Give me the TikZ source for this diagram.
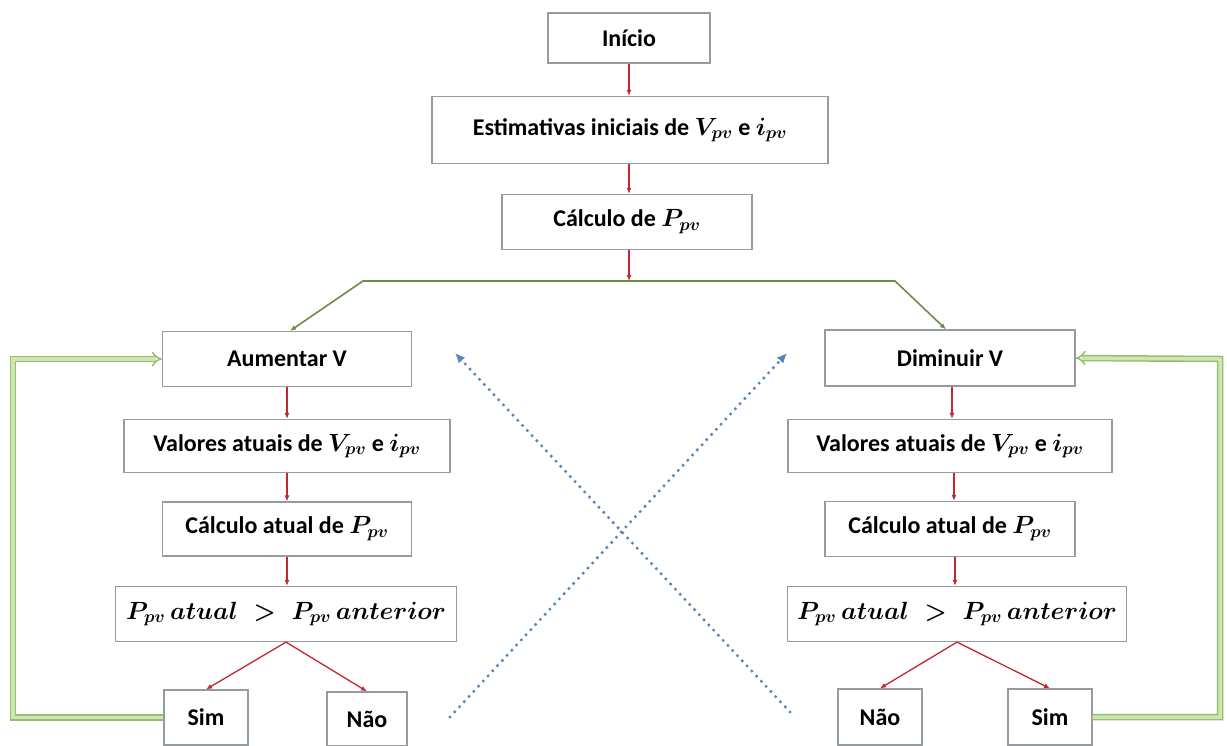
\documentclass[tikz,border=0pt]{standalone}
\usepackage{fontspec}
\setmainfont{Carlito}
\usetikzlibrary{arrows.meta}

\definecolor{boxline}{RGB}{150,155,160}
\definecolor{flowred}{RGB}{192,40,50}
\definecolor{branchgreen}{RGB}{110,140,70}
\definecolor{loopgreen}{RGB}{150,190,110}
\definecolor{loopfill}{RGB}{205,230,180}
\definecolor{crossblue}{RGB}{85,135,185}

\tikzset{
  stepbox/.style={draw=boxline, line width=1.2pt, fill=white, inner sep=0pt,
    font=\fontsize{24}{28}\selectfont\bfseries\boldmath, align=center},
  mathbox/.style={stepbox, font=\fontsize{25}{28}\selectfont\bfseries\boldmath},
  redflow/.style={draw=flowred, line width=1.3pt, -{Latex[length=6pt,width=5pt]}},
  greenflow/.style={draw=branchgreen, line width=1.6pt, -{Latex[length=6pt,width=5pt]}},
  loopback/.style={draw=loopgreen, double=loopfill, double distance=3.5pt,
    line width=1.5pt, -{Implies}},
  crossflow/.style={draw=crossblue, line width=3.4pt, line cap=round,
    dash pattern=on 0pt off 7pt, -{Latex[length=10pt,width=9pt]}},
}

\begin{document}
\begin{tikzpicture}[x=1pt,y=-1pt]
\useasboundingbox (0,0) rectangle (1227,746);

% main column
\node[stepbox, minimum width=162pt, minimum height=50pt] (inicio) at (629,38) {Início};
\node[stepbox, minimum width=396pt, minimum height=67pt] (estim) at (630,130)
  {Estimativas iniciais de $V_{pv}$ e $i_{pv}$};
\node[stepbox, minimum width=250pt, minimum height=55pt] (calc) at (627,222)
  {Cálculo de $P_{pv}$};

% left branch: increase voltage
\node[stepbox, minimum width=249pt, minimum height=55pt] (aum) at (287,359) {Aumentar V};
\node[stepbox, minimum width=326pt, minimum height=53pt] (valL) at (287,446)
  {Valores atuais de $V_{pv}$ e $i_{pv}$};
\node[stepbox, minimum width=249pt, minimum height=54pt] (calcL) at (287,529)
  {Cálculo atual de $P_{pv}$};
\node[mathbox, minimum width=341pt, minimum height=55pt] (cmpL) at (286,614)
  {$P_{pv}\,atual\;>\;P_{pv}\,anterior$};
\node[stepbox, minimum width=84pt, minimum height=55pt] (simL) at (206,717.5) {Sim};
\node[stepbox, minimum width=80pt, minimum height=54pt] (naoL) at (367,719) {Não};

% right branch: decrease voltage
\node[stepbox, minimum width=250pt, minimum height=56pt] (dim) at (950,358) {Diminuir V};
\node[stepbox, minimum width=324pt, minimum height=53pt] (valR) at (950,446)
  {Valores atuais de $V_{pv}$ e $i_{pv}$};
\node[stepbox, minimum width=250pt, minimum height=55pt] (calcR) at (950,529)
  {Cálculo atual de $P_{pv}$};
\node[mathbox, minimum width=339pt, minimum height=55pt] (cmpR) at (957,614)
  {$P_{pv}\,atual\;>\;P_{pv}\,anterior$};
\node[stepbox, minimum width=84pt, minimum height=56pt] (naoR) at (880,717) {Não};
\node[stepbox, minimum width=84pt, minimum height=56pt] (simR) at (1050,717) {Sim};

% split point and bends of the green branch line
\coordinate (split) at (629,281);
\coordinate (bendL) at (363,281);
\coordinate (bendR) at (895,281);

% red flow arrows (vertical ones drop straight down)
\draw[redflow] (inicio.south) -- (inicio.south |- estim.north);
\draw[redflow] (estim.south -| inicio.south) -- (inicio.south |- calc.north);
\draw[redflow] (calc.south -| split) -- (split);
\draw[redflow] (aum.south) -- (aum.south |- valL.north);
\draw[redflow] (valL.south -| aum.south) -- (aum.south |- calcL.north);
\draw[redflow] (calcL.south) -- (calcL.south |- cmpL.north);
\draw[redflow] (cmpL.south) -- (simL.north);
\draw[redflow] (cmpL.south) -- (naoL.north);
\draw[redflow] ([xshift=2pt]dim.south) -- ([xshift=2pt]dim.south |- valR.north);
\draw[redflow] ([xshift=4pt]valR.south) -- ([xshift=4pt]valR.south |- calcR.north);
\draw[redflow] ([xshift=5pt]calcR.south) -- ([xshift=5pt]calcR.south |- cmpR.north);
\draw[redflow] (cmpR.south) -- (naoR.north);
\draw[redflow] (cmpR.south) -- (simR.north);

% green branch to both sides
\draw[greenflow] (split) -- (bendL) -- ([xshift=3pt]aum.north);
\draw[greenflow] (split) -- (bendR) -- ([xshift=-4pt]dim.north);

% loop-back paths
\coordinate (loopL) at (13,717.5);
\coordinate (loopLtop) at (13,359);
\coordinate (loopR) at (1220,717);
\coordinate (loopRtop) at (1220,359);
\draw[loopback] (simL.west) -- (loopL) -- (loopLtop) -- (aum.west);
\draw[loopback] (simR.east) -- (loopR) -- (loopRtop) -- (dim.east);

% crossing dotted arrows
\coordinate (xa1) at (450,717);
\coordinate (xa2) at (787,353);
\coordinate (xb1) at (790,712);
\coordinate (xb2) at (455,353);
\draw[crossflow] (xa1) -- (xa2);
\draw[crossflow] (xb1) -- (xb2);
\end{tikzpicture}
\end{document}
